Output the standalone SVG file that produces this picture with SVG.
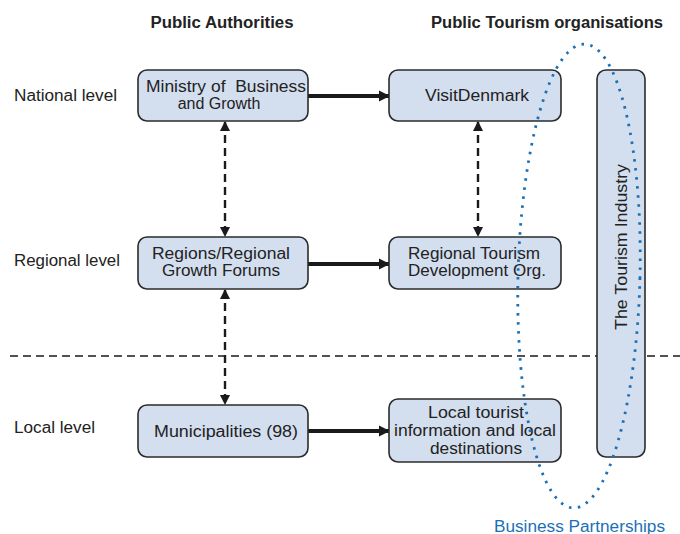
<svg xmlns="http://www.w3.org/2000/svg" width="680" height="534" viewBox="0 0 680 534">
<style>
.box{fill:#d3deef;stroke:#2b2b2b;stroke-width:1.6}
.t{font-family:"Liberation Sans",Arial,sans-serif;font-size:16px;fill:#222;text-anchor:middle}
.lbl{font-family:"Liberation Sans",Arial,sans-serif;font-size:16px;fill:#222}
.hd{font-family:"Liberation Sans",Arial,sans-serif;font-size:16px;font-weight:bold;fill:#222;text-anchor:middle}
.solid{stroke:#1a1a1a;stroke-width:4;fill:none}
.dash{stroke:#1a1a1a;stroke-width:2.4;stroke-dasharray:8,5;fill:none}
.hdash{stroke:#1a1a1a;stroke-width:1.6;stroke-dasharray:8,5;fill:none}
</style>
<defs>
<marker id="ah" viewBox="0 0 10 10" refX="9" refY="5" markerWidth="2.8" markerHeight="2.8" orient="auto"><path d="M0,0L10,5L0,10z" fill="#1a1a1a"/></marker>
<marker id="ad" viewBox="0 0 10 10" refX="9" refY="5" markerWidth="4.2" markerHeight="4.2" orient="auto-start-reverse"><path d="M0,0L10,5L0,10z" fill="#1a1a1a"/></marker>
</defs>
<text class="hd" x="222" y="28" textLength="143" lengthAdjust="spacingAndGlyphs">Public Authorities</text>
<text class="hd" x="547" y="28" textLength="232" lengthAdjust="spacingAndGlyphs">Public Tourism organisations</text>
<text class="lbl" x="14" y="101" textLength="103" lengthAdjust="spacingAndGlyphs">National level</text>
<text class="lbl" x="14" y="266" textLength="106" lengthAdjust="spacingAndGlyphs">Regional level</text>
<text class="lbl" x="14" y="433" textLength="81" lengthAdjust="spacingAndGlyphs">Local level</text>
<line x1="10" y1="356" x2="680" y2="356" class="hdash"/>
<g id="tourism-industry"><rect class="box" x="597" y="70" width="48" height="387" rx="9"/>
<text class="t" transform="translate(627,247) rotate(-90)" textLength="166" lengthAdjust="spacingAndGlyphs">The Tourism Industry</text></g>
<g id="connectors">
<line class="solid" x1="308" y1="96" x2="389" y2="96" marker-end="url(#ah)"/>
<line class="solid" x1="308" y1="264" x2="389" y2="264" marker-end="url(#ah)"/>
<line class="solid" x1="308" y1="431" x2="389" y2="431" marker-end="url(#ah)"/>
<line class="dash" x1="225" y1="122" x2="225" y2="236" marker-start="url(#ad)" marker-end="url(#ad)"/>
<line class="dash" x1="225" y1="290" x2="225" y2="404" marker-start="url(#ad)" marker-end="url(#ad)"/>
<line class="dash" x1="478" y1="122" x2="478" y2="236" marker-start="url(#ad)" marker-end="url(#ad)"/>
</g>
<g id="ministry"><rect class="box" x="138" y="70" width="170" height="51" rx="9"/>
<text class="t" x="226" y="92" textLength="160" lengthAdjust="spacingAndGlyphs" xml:space="preserve">Ministry of  Business</text>
<text class="t" x="219" y="109">and Growth</text></g>
<g id="visitdenmark"><rect class="box" x="389" y="70" width="172" height="51" rx="9"/>
<text class="t" x="477" y="101" textLength="104" lengthAdjust="spacingAndGlyphs">VisitDenmark</text></g>
<g id="regions"><rect class="box" x="138" y="237" width="170" height="52" rx="9"/>
<text class="t" x="221" y="259" textLength="138" lengthAdjust="spacingAndGlyphs">Regions/Regional</text>
<text class="t" x="221" y="276" textLength="118" lengthAdjust="spacingAndGlyphs">Growth Forums</text></g>
<g id="regional-tourism"><rect class="box" x="389" y="237" width="172" height="52" rx="9"/>
<text class="t" x="474" y="259" textLength="132" lengthAdjust="spacingAndGlyphs">Regional Tourism</text>
<text class="t" x="477" y="276" textLength="138" lengthAdjust="spacingAndGlyphs">Development Org.</text></g>
<g id="municipalities"><rect class="box" x="138" y="405" width="170" height="52" rx="9"/>
<text class="t" x="226" y="437" textLength="144" lengthAdjust="spacingAndGlyphs">Municipalities (98)</text></g>
<g id="local-tourist"><rect class="box" x="389" y="399" width="172" height="63" rx="9"/>
<text class="t" x="476" y="418" textLength="96" lengthAdjust="spacingAndGlyphs">Local tourist</text>
<text class="t" x="475" y="436" textLength="162" lengthAdjust="spacingAndGlyphs">information and local</text>
<text class="t" x="476" y="454" textLength="92" lengthAdjust="spacingAndGlyphs">destinations</text></g>
<g id="business-partnerships">
<ellipse cx="579" cy="276" rx="61" ry="232" transform="rotate(1.4 579 276)" fill="none" stroke="#1b6fb5" stroke-width="2.8" stroke-dasharray="2.5,6.5"/>
<text x="494" y="532" font-family="'Liberation Sans',Arial,sans-serif" font-size="16" fill="#1b6fb5" textLength="171" lengthAdjust="spacingAndGlyphs">Business Partnerships</text>
</g>
</svg>
